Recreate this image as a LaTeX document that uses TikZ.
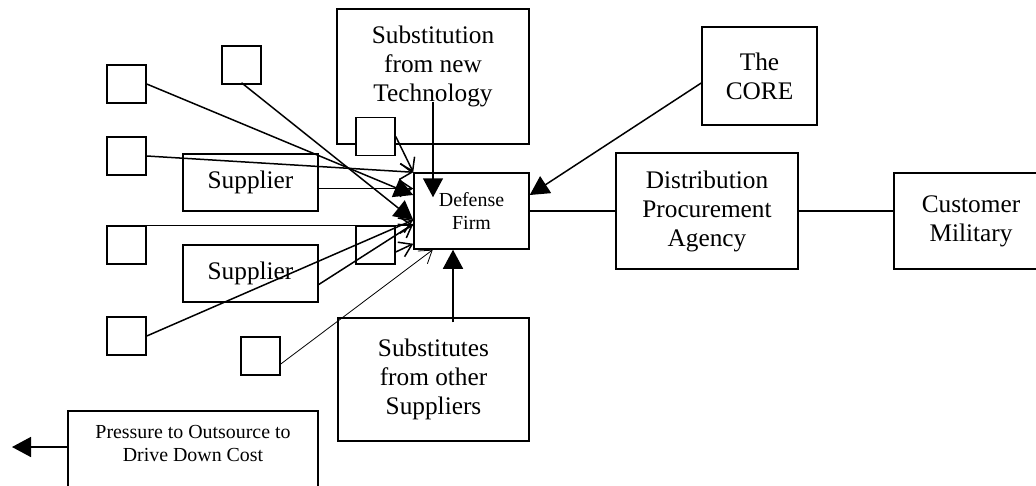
\documentclass[tikz,border=0pt]{standalone}
\usepackage{fontspec}
\setmainfont{Liberation Serif}
\usetikzlibrary{positioning, arrows.meta, calc}

\newcommand{\bigtext}{\fontsize{25.3pt}{29pt}\selectfont}
\newcommand{\smalltext}{\fontsize{19.9pt}{23pt}\selectfont}

\begin{document}
\begin{tikzpicture}[
				x=1pt, y=-1pt,
				box/.style={draw, line width=1.5pt, fill=white, align=center, inner sep=0pt, font=\bigtext},
				sq/.style={box, minimum width=39pt, minimum height=38pt},
				lead/.style={line width=1.5pt, -{Triangle[length=19pt, width=20pt]}},
				barb/.style={line width=1.5pt, -{Straight Barb[length=12pt, width=16pt]}}
				]
				\useasboundingbox (0,0) rectangle (1036,485);
				% boxes
				\node[box, minimum width=192pt, minimum height=135pt] (sub) at (433,76.5)
				{Substitution\\from new\\Technology\\[-4pt]\mbox{}};
				\node[sq] (sqa) at (126.5,84) {};
				\node[sq] (sqb) at (241.5,65) {};
				\node[sq] (sqc) at (375.5,136.5) {};
				\node[sq] (sqd) at (126.5,156) {};
				\node[sq] (sqe) at (126.5,245) {};
				\node[sq] (sqf) at (375.5,245) {};
				\node[sq] (sqg) at (126.5,336) {};
				\node[sq] (sqh) at (260.5,356) {};
				\node[box, minimum width=135pt, minimum height=57pt] (supa) at (250.5,182.5) {Supplier};
				\node[box, minimum width=135pt, minimum height=57pt] (supb) at (250.5,273.5) {Supplier};
				\node[box, minimum width=115pt, minimum height=76pt, font=\smalltext] (firm) at (471.5,211) {Defense\\Firm};
				\node[box, minimum width=115pt, minimum height=98pt] (core) at (759.5,76) {The\\CORE};
				\node[box, minimum width=182pt, minimum height=116pt] (dist) at (707,211) {Distribution\\Procurement\\Agency};
				\node[box, minimum width=154pt, minimum height=96pt] (cust) at (971,221) {Customer\\Military};
				\node[box, minimum width=191pt, minimum height=123pt] (subs) at (433.5,379.5) {Substitutes\\from other\\Suppliers};
				\node[box, minimum width=250pt, minimum height=88pt, font=\smalltext] (press) at (193,455)
				{Pressure to Outsource to\\Drive Down Cost\\\mbox{}};
				\coordinate (out) at (12,447);
				% connectors into the firm
				\draw[lead] (sqa.east) -- ([yshift=16pt]firm.west);
				\draw[lead] ([yshift=2pt]sqb.south) -- ([yshift=-9pt]firm.west);
				\draw[barb] (sqd.east) -- (firm.north west);
				\draw[barb] (sqc.east) -- (firm.north west);
				\draw[barb] ([yshift=-6pt]supa.east) -- ([yshift=-6pt]supa.east -| firm.west);
				\draw[barb] (sqe.north east) -- (sqe.north east -| firm.west);
				\draw[barb] ([yshift=-11pt]supb.east) -- ([yshift=-13pt]firm.west);
				\draw[barb] (sqg.east) -- ([yshift=-9pt]firm.west);
				\draw[barb] ([yshift=-7pt]sqf.east) -- ([yshift=6pt]firm.south west);
				\draw[barb, line width=0.8pt] ([yshift=-8pt]sqh.east) -- ([xshift=19.5pt]firm.south west);
				\draw[lead] ([yshift=-25pt]sub.center) -- ([yshift=-25pt]sub.center |- firm.north);
				\draw[lead] ([xshift=19.5pt, yshift=-5pt]subs.north) -- ([xshift=19.5pt]subs.north |- firm.south);
				\draw[lead] ([yshift=-7pt]core.west) -- ([yshift=16pt]firm.east);
				% chain to the customer
				\draw[line width=1.5pt] (firm.east) -- (firm.east -| dist.west);
				\draw[line width=1.5pt] (dist.east) -- (dist.east -| cust.west);
				\draw[lead] ([yshift=8pt]press.west) -- (out);
			\end{tikzpicture}
\end{document}
